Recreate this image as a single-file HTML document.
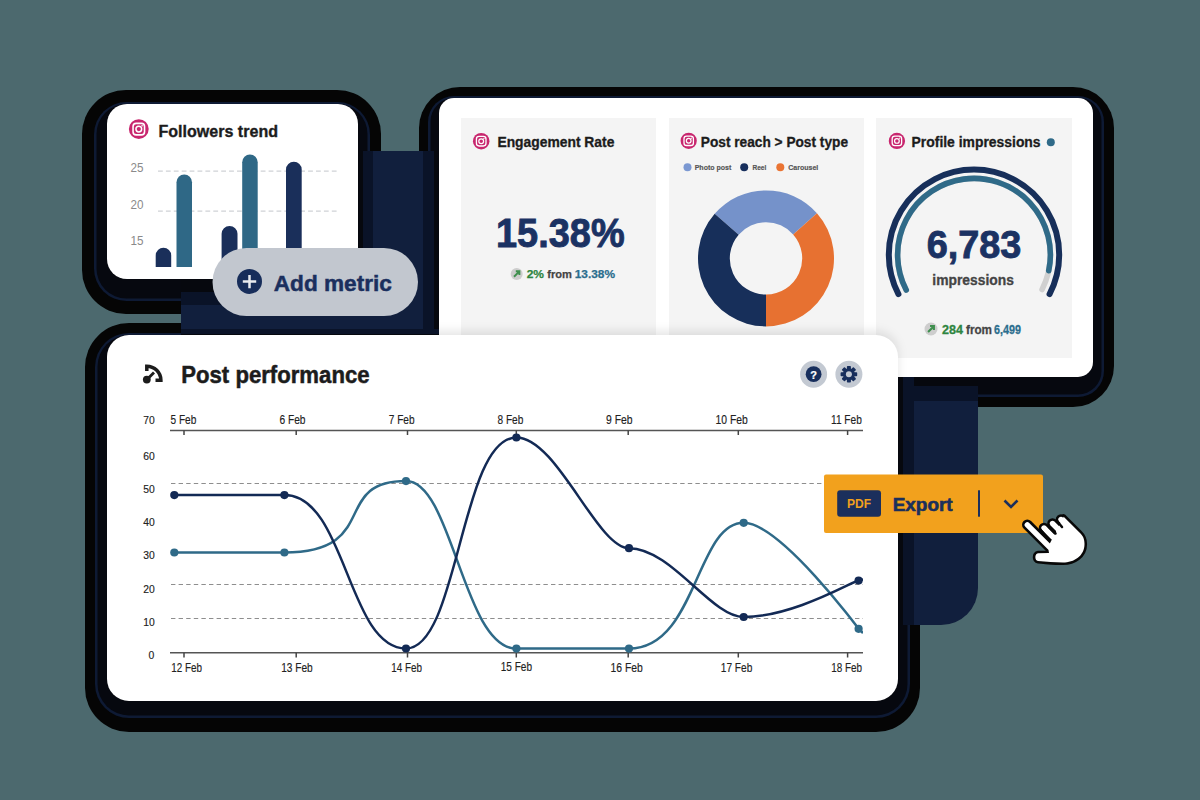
<!DOCTYPE html>
<html><head><meta charset="utf-8"><style>
html,body{margin:0;padding:0;width:1200px;height:800px;overflow:hidden;background:#4c696e;}
svg{display:block;font-family:"Liberation Sans", sans-serif;}
</style></head><body>
<svg width="1200" height="800" viewBox="0 0 1200 800">
<defs><filter id="soft" x="-20%" y="-20%" width="140%" height="140%"><feGaussianBlur stdDeviation="6"/></filter><filter id="soft2" x="-20%" y="-20%" width="140%" height="140%"><feGaussianBlur stdDeviation="5"/></filter><clipPath id="blk"><path d="M181 151 H978 V588 A37 37 0 0 1 941 625 H181 Z"/></clipPath><clipPath id="bigc"><rect x="439" y="98" width="654" height="279" rx="15"/></clipPath><clipPath id="chartc"><rect x="160" y="420" width="703" height="250"/></clipPath></defs>
<rect width="1200" height="800" fill="#4c696e"/>
<rect x="82" y="90" width="299" height="224" rx="44.0" fill="#050505" /><rect x="94" y="102" width="276" height="199" rx="32.5" fill="#0e1a34" /><rect x="96.5" y="104" width="271.0" height="194.5" rx="30.0" fill="#06080f" />
<rect x="419" y="87" width="695" height="320" rx="41" fill="#050505" /><rect x="428" y="96" width="676" height="301" rx="26.0" fill="#0e1a34" /><rect x="430.5" y="98" width="671.0" height="296.5" rx="23.5" fill="#06080f" />
<rect x="85" y="323" width="835" height="409" rx="44.0" fill="#050505" /><rect x="95" y="333" width="815" height="385" rx="34.0" fill="#0e1a34" /><rect x="97.5" y="335" width="810.0" height="380.5" rx="31.5" fill="#06080f" />
<path d="M181 151 H978 V588 A37 37 0 0 1 941 625 H181 Z" fill="#111f3d"/>
<g clip-path="url(#blk)"><rect x="92" y="99" width="281" height="206" rx="28" fill="#0a1328" /><rect x="102" y="104" width="261" height="188" rx="23" fill="#06080e" /><rect x="423" y="93" width="686" height="308" rx="23" fill="#0a1328" /><rect x="434" y="98" width="664" height="288" rx="18" fill="#06080e" /><rect x="92" y="329" width="822" height="392" rx="30" fill="#0a1328" /><rect x="102" y="334" width="801" height="375" rx="25" fill="#06080e" /></g>
<rect x="107" y="104" width="251" height="175" rx="20" fill="#fff" />
<circle cx="138.8" cy="129.1" r="9.9" fill="#c8266e"/><rect x="133.05800000000002" y="123.35799999999999" width="11.484" height="11.484" rx="3.168" fill="none" stroke="#fff" stroke-width="1.584"/><circle cx="138.8" cy="129.1" r="2.871" fill="none" stroke="#fff" stroke-width="1.4849999999999999"/><circle cx="142.067" cy="125.833" r="0.792" fill="#fff"/>
<text x="158.5" y="136.6" font-size="16.3" font-weight="bold" fill="#1c1c1c" text-anchor="start" textLength="119.5" lengthAdjust="spacingAndGlyphs" stroke="#1c1c1c" stroke-width="0.36" >Followers trend</text>
<text x="130.5" y="172" font-size="13" font-weight="normal" fill="#8a8a8a" text-anchor="start" textLength="13" lengthAdjust="spacingAndGlyphs" >25</text>
<text x="130.5" y="208.8" font-size="13" font-weight="normal" fill="#8a8a8a" text-anchor="start" textLength="13" lengthAdjust="spacingAndGlyphs" >20</text>
<text x="130.5" y="245.3" font-size="13" font-weight="normal" fill="#8a8a8a" text-anchor="start" textLength="13" lengthAdjust="spacingAndGlyphs" >15</text>
<g stroke="#cfd2d6" stroke-width="1.2" stroke-dasharray="4.8 3.1"><line x1="158" y1="171.2" x2="337" y2="171.2"/><line x1="158" y1="211.1" x2="337" y2="211.1"/></g>
<path d="M155.7 267 V255.55 A7.75 7.75 0 0 1 171.2 255.55 V267 Z" fill="#1a2f5a"/>
<path d="M176.5 267 V182.25 A7.75 7.75 0 0 1 192 182.25 V267 Z" fill="#2f6886"/>
<path d="M221.6 267 V233.85000000000002 A7.950000000000003 7.950000000000003 0 0 1 237.5 233.85000000000002 V267 Z" fill="#1a2f5a"/>
<path d="M242.2 267 V162.35 A7.75 7.75 0 0 1 257.7 162.35 V267 Z" fill="#2f6886"/>
<path d="M286 267 V169.54999999999998 A7.849999999999994 7.849999999999994 0 0 1 301.7 169.54999999999998 V267 Z" fill="#1a2f5a"/>
<rect x="439" y="98" width="654" height="279" rx="15" fill="#fff" />
<rect x="461" y="118" width="195" height="240" rx="0" fill="#f4f4f4" />
<rect x="669" y="118" width="195" height="240" rx="0" fill="#f4f4f4" />
<rect x="876" y="118" width="196" height="240" rx="0" fill="#f4f4f4" />
<circle cx="481.2" cy="141.2" r="8.25" fill="#c8266e"/><rect x="476.41499999999996" y="136.415" width="9.569999999999999" height="9.569999999999999" rx="2.64" fill="none" stroke="#fff" stroke-width="1.32"/><circle cx="481.2" cy="141.2" r="2.3924999999999996" fill="none" stroke="#fff" stroke-width="1.2374999999999998"/><circle cx="483.9225" cy="138.4775" r="0.66" fill="#fff"/>
<text x="497.4" y="146.6" font-size="14.5" font-weight="bold" fill="#1c1c1c" text-anchor="start" textLength="117" lengthAdjust="spacingAndGlyphs" stroke="#1c1c1c" stroke-width="0.32" >Engagement Rate</text>
<text x="496" y="247" font-size="40.5" font-weight="bold" fill="#1b3263" text-anchor="start" textLength="128.7" lengthAdjust="spacingAndGlyphs" stroke="#1b3263" stroke-width="0.89" >15.38%</text>
<circle cx="516.7" cy="274" r="6.0" fill="#cdcdcd"/><path d="M514.0 276.7 L519.1 271.6 M515.8000000000001 271.3 H519.4000000000001 V274.9" stroke="#3f8f4e" stroke-width="1.92" fill="none"/>
<text x="526.7" y="278.4" font-size="11.2" font-weight="bold" fill="#2e8540" text-anchor="start" textLength="17.3" lengthAdjust="spacingAndGlyphs" stroke="#2e8540" stroke-width="0.25" >2%</text>
<text x="547.3" y="278.4" font-size="11.2" font-weight="bold" fill="#444" text-anchor="start" textLength="24.7" lengthAdjust="spacingAndGlyphs" stroke="#444" stroke-width="0.25" >from</text>
<text x="574.7" y="278.4" font-size="11.2" font-weight="bold" fill="#2c6e8e" text-anchor="start" textLength="40.3" lengthAdjust="spacingAndGlyphs" stroke="#2c6e8e" stroke-width="0.25" >13.38%</text>
<circle cx="688.7" cy="140.8" r="8.1" fill="#c8266e"/><rect x="684.0020000000001" y="136.102" width="9.395999999999999" height="9.395999999999999" rx="2.592" fill="none" stroke="#fff" stroke-width="1.296"/><circle cx="688.7" cy="140.8" r="2.3489999999999998" fill="none" stroke="#fff" stroke-width="1.2149999999999999"/><circle cx="691.373" cy="138.127" r="0.648" fill="#fff"/>
<text x="700.8" y="146.7" font-size="14.5" font-weight="bold" fill="#1c1c1c" text-anchor="start" textLength="147.2" lengthAdjust="spacingAndGlyphs" stroke="#1c1c1c" stroke-width="0.32" >Post reach &gt; Post type</text>
<circle cx="687.5" cy="167.2" r="4" fill="#7b98d2"/>
<text x="694.7" y="170" font-size="8" font-weight="bold" fill="#555" text-anchor="start" textLength="36.6" lengthAdjust="spacingAndGlyphs" stroke="#555" stroke-width="0.18" >Photo post</text>
<circle cx="744.2" cy="167.2" r="4" fill="#172e5c"/>
<text x="752.5" y="170" font-size="8" font-weight="bold" fill="#555" text-anchor="start" textLength="13.8" lengthAdjust="spacingAndGlyphs" stroke="#555" stroke-width="0.18" >Reel</text>
<circle cx="780.3" cy="167.2" r="4" fill="#ea7433"/>
<text x="788.3" y="170" font-size="8" font-weight="bold" fill="#555" text-anchor="start" textLength="30" lengthAdjust="spacingAndGlyphs" stroke="#555" stroke-width="0.18" >Carousel</text>
<path d="M714.68 213.79 A68 68 0 0 1 816.93 213.34 L793.11 234.41 A36.2 36.2 0 0 0 738.68 234.65 Z" fill="#7592ca"/>
<path d="M816.93 213.34 A68 68 0 0 1 766.00 326.40 L766.00 294.60 A36.2 36.2 0 0 0 793.11 234.41 Z" fill="#e77131"/>
<path d="M766.00 326.40 A68 68 0 0 1 714.68 213.79 L738.68 234.65 A36.2 36.2 0 0 0 766.00 294.60 Z" fill="#172f5a"/>
<circle cx="896.9" cy="140.9" r="8.15" fill="#c8266e"/><rect x="892.173" y="136.173" width="9.454" height="9.454" rx="2.6080000000000005" fill="none" stroke="#fff" stroke-width="1.3040000000000003"/><circle cx="896.9" cy="140.9" r="2.3635" fill="none" stroke="#fff" stroke-width="1.2225000000000001"/><circle cx="899.5894999999999" cy="138.2105" r="0.6520000000000001" fill="#fff"/>
<text x="911.6" y="146.6" font-size="14.5" font-weight="bold" fill="#1c1c1c" text-anchor="start" textLength="129" lengthAdjust="spacingAndGlyphs" stroke="#1c1c1c" stroke-width="0.32" >Profile impressions</text>
<circle cx="1050.8" cy="142.2" r="4" fill="#2f6a88"/>
<path d="M898.43 294.14 A85.2 85.2 0 1 1 1049.57 294.14" fill="none" stroke="#172f5a" stroke-width="6" stroke-linecap="round"/>
<path d="M906.23 290.08 A76.4 76.4 0 1 1 1042.07 289.48" fill="none" stroke="#d0d0d0" stroke-width="5.6" stroke-linecap="round"/>
<path d="M906.23 290.08 A76.4 76.4 0 1 1 1048.73 270.68" fill="none" stroke="#2f6a88" stroke-width="5.6" stroke-linecap="round"/>
<text x="926.7" y="257.6" font-size="38" font-weight="bold" fill="#1b3263" text-anchor="start" textLength="94.7" lengthAdjust="spacingAndGlyphs" stroke="#1b3263" stroke-width="0.84" >6,783</text>
<text x="932.3" y="284.8" font-size="15.5" font-weight="bold" fill="#444" text-anchor="start" textLength="81.6" lengthAdjust="spacingAndGlyphs" stroke="#444" stroke-width="0.34" >impressions</text>
<circle cx="931" cy="329" r="6.5" fill="#cdcdcd"/><path d="M928.075 331.925 L933.6 326.4 M930.025 326.075 H933.925 V329.975" stroke="#3f8f4e" stroke-width="2.08" fill="none"/>
<text x="942" y="333.5" font-size="12.5" font-weight="bold" fill="#2e8540" text-anchor="start" textLength="21" lengthAdjust="spacingAndGlyphs" stroke="#2e8540" stroke-width="0.27" >284</text>
<text x="966" y="333.5" font-size="12.5" font-weight="bold" fill="#444" text-anchor="start" textLength="26" lengthAdjust="spacingAndGlyphs" stroke="#444" stroke-width="0.27" >from</text>
<text x="994" y="333.5" font-size="12.5" font-weight="bold" fill="#2c6e8e" text-anchor="start" textLength="27" lengthAdjust="spacingAndGlyphs" stroke="#2c6e8e" stroke-width="0.27" >6,499</text>
<g clip-path="url(#bigc)" filter="url(#soft2)"><rect x="107" y="331" width="791" height="370" rx="22" fill="#000" opacity="0.10"/></g>
<rect x="107" y="335" width="791" height="366" rx="22" fill="#fff" />
<path d="M146.8 371 V366.2 A14.1 14.1 0 0 1 160.9 380.3 H155.5" fill="none" stroke="#1c1c1c" stroke-width="3.5"/><circle cx="146.8" cy="379.6" r="3.9" fill="#1c1c1c"/><line x1="147" y1="379.5" x2="154" y2="372.5" stroke="#1c1c1c" stroke-width="2.8"/>
<text x="181.25" y="383" font-size="23.4" font-weight="bold" fill="#1c1c1c" text-anchor="start" textLength="188.3" lengthAdjust="spacingAndGlyphs" stroke="#1c1c1c" stroke-width="0.51" >Post performance</text>
<circle cx="813.6" cy="374.2" r="13.5" fill="#c3c9d2"/><circle cx="813.6" cy="374.2" r="7.9" fill="#172e5c"/>
<text x="813.6" y="378.6" font-size="11" font-weight="bold" fill="#fff" text-anchor="middle" stroke="#fff" stroke-width="0.24" >?</text>
<circle cx="848.9" cy="374.2" r="13.5" fill="#c3c9d2"/>
<g transform="translate(848.9 374.2)" fill="#172e5c"><rect x="-2" y="-8.3" width="4" height="4" rx="0.8" transform="rotate(0)"/><rect x="-2" y="-8.3" width="4" height="4" rx="0.8" transform="rotate(45)"/><rect x="-2" y="-8.3" width="4" height="4" rx="0.8" transform="rotate(90)"/><rect x="-2" y="-8.3" width="4" height="4" rx="0.8" transform="rotate(135)"/><rect x="-2" y="-8.3" width="4" height="4" rx="0.8" transform="rotate(180)"/><rect x="-2" y="-8.3" width="4" height="4" rx="0.8" transform="rotate(225)"/><rect x="-2" y="-8.3" width="4" height="4" rx="0.8" transform="rotate(270)"/><rect x="-2" y="-8.3" width="4" height="4" rx="0.8" transform="rotate(315)"/><circle r="5.9"/><circle r="3" fill="#c3c9d2"/></g>
<g font-size="12.5" fill="#222" stroke="#222" stroke-width="0.15">
<text x="143.2" y="423.6" font-size="11.6" textLength="11.5" lengthAdjust="spacingAndGlyphs">70</text>
<text x="143.2" y="459.6" font-size="11.6" textLength="11.5" lengthAdjust="spacingAndGlyphs">60</text>
<text x="143.2" y="493.1" font-size="11.6" textLength="11.5" lengthAdjust="spacingAndGlyphs">50</text>
<text x="143.2" y="526.1" font-size="11.6" textLength="11.5" lengthAdjust="spacingAndGlyphs">40</text>
<text x="143.2" y="559.1" font-size="11.6" textLength="11.5" lengthAdjust="spacingAndGlyphs">30</text>
<text x="143.2" y="592.5" font-size="11.6" textLength="11.5" lengthAdjust="spacingAndGlyphs">20</text>
<text x="143.2" y="625.5" font-size="11.6" textLength="11.5" lengthAdjust="spacingAndGlyphs">10</text>
<text x="148.6" y="659.3" font-size="11.6" textLength="5.8" lengthAdjust="spacingAndGlyphs">0</text>
<text x="170.5" y="423.8" textLength="25.8" lengthAdjust="spacingAndGlyphs">5 Feb</text>
<text x="279.5" y="423.8" textLength="26" lengthAdjust="spacingAndGlyphs">6 Feb</text>
<text x="388.8" y="423.8" textLength="25.8" lengthAdjust="spacingAndGlyphs">7 Feb</text>
<text x="497.5" y="423.8" textLength="25.8" lengthAdjust="spacingAndGlyphs">8 Feb</text>
<text x="606" y="423.8" textLength="26.5" lengthAdjust="spacingAndGlyphs">9 Feb</text>
<text x="715.5" y="423.8" textLength="32.2" lengthAdjust="spacingAndGlyphs">10 Feb</text>
<text x="831" y="423.8" textLength="30.8" lengthAdjust="spacingAndGlyphs">11 Feb</text>
<text x="171.3" y="671.5" textLength="30.7" lengthAdjust="spacingAndGlyphs">12 Feb</text>
<text x="281.2" y="671.5" textLength="31.5" lengthAdjust="spacingAndGlyphs">13 Feb</text>
<text x="391.3" y="672" textLength="30.7" lengthAdjust="spacingAndGlyphs">14 Feb</text>
<text x="500.7" y="671" textLength="31.3" lengthAdjust="spacingAndGlyphs">15 Feb</text>
<text x="610.5" y="671.5" textLength="32.2" lengthAdjust="spacingAndGlyphs">16 Feb</text>
<text x="720.8" y="671.5" textLength="31.5" lengthAdjust="spacingAndGlyphs">17 Feb</text>
<text x="831.2" y="671.5" textLength="30.8" lengthAdjust="spacingAndGlyphs">18 Feb</text>
</g>
<g stroke="#555" stroke-width="1.5"><line x1="170" y1="430.5" x2="863" y2="430.5"/><line x1="170" y1="652.7" x2="863" y2="652.7"/></g>
<g stroke="#444" stroke-width="1.5"><line x1="184" y1="430.5" x2="184" y2="435"/><line x1="184" y1="652.7" x2="184" y2="657.5"/><line x1="296.2" y1="430.5" x2="296.2" y2="435"/><line x1="296.2" y1="652.7" x2="296.2" y2="657.5"/><line x1="407.5" y1="430.5" x2="407.5" y2="435"/><line x1="407.5" y1="652.7" x2="407.5" y2="657.5"/><line x1="516.3" y1="430.5" x2="516.3" y2="435"/><line x1="516.3" y1="652.7" x2="516.3" y2="657.5"/><line x1="628.2" y1="430.5" x2="628.2" y2="435"/><line x1="628.2" y1="652.7" x2="628.2" y2="657.5"/><line x1="738.3" y1="430.5" x2="738.3" y2="435"/><line x1="738.3" y1="652.7" x2="738.3" y2="657.5"/><line x1="847.6" y1="430.5" x2="847.6" y2="435"/><line x1="847.6" y1="652.7" x2="847.6" y2="657.5"/></g>
<g stroke="#8e8e8e" stroke-width="1.2" stroke-dasharray="4.4 3.2"><line x1="171" y1="483.5" x2="863" y2="483.5"/><line x1="171" y1="584.5" x2="863" y2="584.5"/><line x1="171" y1="618.5" x2="863" y2="618.5"/></g>
<g clip-path="url(#chartc)">
<path d="M174.3 552.5 C211.0 552.5 247.7 552.5 284.4 552.5 C381.7 552.5 330.0 481.1 406.0 481.1 C452.5 481.1 463.3 648.6 516.4 648.6 C553.9 648.6 591.5 648.6 629.0 648.6 C696.9 648.6 695.8 522.8 743.7 522.8 C780.1 522.8 858.7 628.8 858.6 628.8 L863 633" fill="none" stroke="#2f6a88" stroke-width="2.5"/>
<path d="M174.3 495.1 C211.0 495.1 247.7 495.1 284.4 495.1 C346.1 495.1 347.6 648.5 406.0 648.5 C458.7 648.5 460.6 437.5 516.4 437.5 C556.9 437.5 597.2 548.2 629.0 548.2 C671.4 548.2 711.1 617.0 743.7 617.0 C793.7 617.0 854.1 580.5 858.6 580.5 L863 579.5" fill="none" stroke="#132a55" stroke-width="2.5"/>
<circle cx="174.3" cy="552.5" r="4.1" fill="#2f6a88"/>
<circle cx="284.4" cy="552.5" r="4.1" fill="#2f6a88"/>
<circle cx="406" cy="481.1" r="4.1" fill="#2f6a88"/>
<circle cx="516.4" cy="648.6" r="4.1" fill="#2f6a88"/>
<circle cx="629" cy="648.6" r="4.1" fill="#2f6a88"/>
<circle cx="743.7" cy="522.8" r="4.1" fill="#2f6a88"/>
<circle cx="858.6" cy="628.8" r="4.1" fill="#2f6a88"/>
<circle cx="174.3" cy="495.1" r="4.1" fill="#132a55"/>
<circle cx="284.4" cy="495.1" r="4.1" fill="#132a55"/>
<circle cx="406" cy="648.5" r="4.1" fill="#132a55"/>
<circle cx="516.4" cy="437.5" r="4.1" fill="#132a55"/>
<circle cx="629" cy="548.2" r="4.1" fill="#132a55"/>
<circle cx="743.7" cy="617" r="4.1" fill="#132a55"/>
<circle cx="858.6" cy="580.5" r="4.1" fill="#132a55"/>
</g>
<rect x="212.5" y="248" width="205.5" height="68" rx="34" fill="#c2c7cf" />
<circle cx="249.5" cy="281.4" r="12.5" fill="#172d5a"/><path d="M242.8 281.6 H256.2 M249.5 274.9 V288.3" stroke="#e8eaee" stroke-width="2.5"/>
<text x="273.8" y="290.8" font-size="22.8" font-weight="bold" fill="#1b2f5e" text-anchor="start" textLength="118" lengthAdjust="spacingAndGlyphs" stroke="#1b2f5e" stroke-width="0.50" >Add metric</text>
<rect x="824" y="474.5" width="219" height="58.5" rx="2" fill="#f2a11d" />
<rect x="837.2" y="490.3" width="43.799999999999955" height="26.400000000000034" rx="3" fill="#1b2f5c" />
<text x="859.1" y="508" font-size="12.5" font-weight="bold" fill="#f2a11d" text-anchor="middle" textLength="24" lengthAdjust="spacingAndGlyphs" stroke="#f2a11d" stroke-width="0.01" >PDF</text>
<text x="892.7" y="511.3" font-size="18.6" font-weight="bold" fill="#1b2f5c" text-anchor="start" textLength="60" lengthAdjust="spacingAndGlyphs" stroke="#1b2f5c" stroke-width="0.60" >Export</text>
<rect x="978" y="490.3" width="2" height="26.4" fill="#1b2f5c"/>
<path d="M1004.5 500.5 L1011 507 L1017.5 500.5" fill="none" stroke="#1b2f5c" stroke-width="2.6"/>
<g stroke-linecap="round" stroke-linejoin="round"><g stroke="#080808" stroke-width="10.6"><line x1="1027.3" y1="524.8" x2="1049.5" y2="547"/><line x1="1044" y1="528" x2="1053" y2="537"/><line x1="1052.5" y1="523.5" x2="1060" y2="531"/><line x1="1061" y1="519.5" x2="1068" y2="526.5"/></g><path d="M1048 547 L1063.7 516.8 L1079.5 532.6 C1083 536 1084.5 539 1084.5 544 C1084.5 556 1074 562.5 1063 562.5 C1055 562.5 1046 561.5 1038 561 C1034.5 560.8 1034.5 553.5 1038 553.3 L1049 553 Z" fill="#080808" stroke="#080808" stroke-width="5.2"/><g stroke="#fff" stroke-width="5.4"><line x1="1027.3" y1="524.8" x2="1049.5" y2="547"/><line x1="1044" y1="528" x2="1053" y2="537"/><line x1="1052.5" y1="523.5" x2="1060" y2="531"/><line x1="1061" y1="519.5" x2="1068" y2="526.5"/></g><path d="M1048 547 L1063.7 516.8 L1079.5 532.6 C1083 536 1084.5 539 1084.5 544 C1084.5 556 1074 562.5 1063 562.5 C1055 562.5 1046 561.5 1038 561 C1034.5 560.8 1034.5 553.5 1038 553.3 L1049 553 Z" fill="#fff"/><path d="M1040.3 529.6 L1049 539.8 M1049 527 L1055.5 533.5 M1057 521 L1062 527" stroke="#080808" stroke-width="2.5"/></g>
</svg>
</body></html>
